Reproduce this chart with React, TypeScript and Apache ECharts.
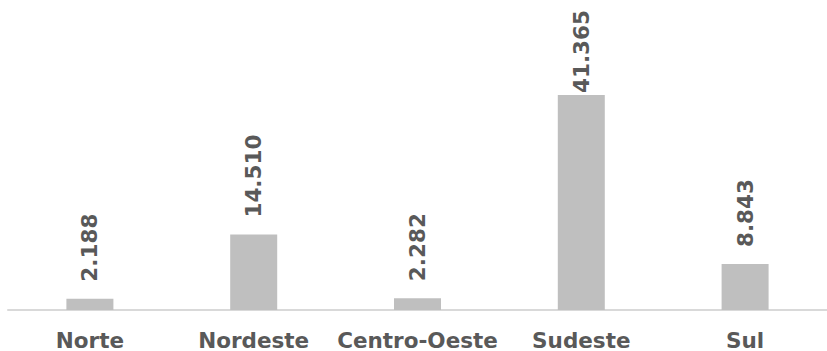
import React, { useEffect, useRef } from "react";
import * as echarts from "echarts";

const categories = ["Norte", "Nordeste", "Centro-Oeste", "Sudeste", "Sul"];
const values = [2188, 14510, 2282, 41365, 8843];

const fmt = (v: number) => String(v).replace(/\B(?=(\d{3})+(?!\d))/g, ".");

export default function App() {
  const ref = useRef<HTMLDivElement>(null);
  useEffect(() => {
    if (!ref.current) return;
    const chart = echarts.init(ref.current, undefined, { renderer: "svg" });
    const maxV = Math.max(...values);
    chart.setOption({
      animation: false,
      grid: { left: 8, right: -4, top: 0, bottom: 41, containLabel: false },
      xAxis: {
        type: "category",
        data: categories,
        axisLine: { show: true, lineStyle: { color: "#D9D9D9", width: 2 } },
        axisTick: { show: false },
        axisLabel: {
          color: "#595959",
          fontFamily: "DejaVu Sans",
          fontWeight: "bold",
          fontSize: 21.5,
          margin: 19,
          interval: 0,
        },
      },
      yAxis: {
        type: "value",
        min: 0,
        max: 59640,
        show: false,
        splitLine: { show: false },
      },
      series: [
        {
          type: "bar",
          barWidth: 47,
          itemStyle: { color: "#BFBFBF" },
          data: values.map((v) =>
            v === maxV ? { value: v, label: { distance: 2 } } : { value: v }
          ),
          label: {
            show: true,
            position: "top",
            rotate: 90,
            align: "left",
            verticalAlign: "middle",
            distance: 17,
            color: "#595959",
            fontFamily: "DejaVu Sans",
            fontWeight: "bold",
            fontSize: 21.5,
            formatter: (p: any) => fmt(p.value),
          },
        },
      ],
    });
    return () => chart.dispose();
  }, []);
  return (
    <div
      ref={ref}
      style={{ position: "fixed", left: 0, top: 0, width: 827, height: 351, background: "#fff" }}
    />
  );
}
